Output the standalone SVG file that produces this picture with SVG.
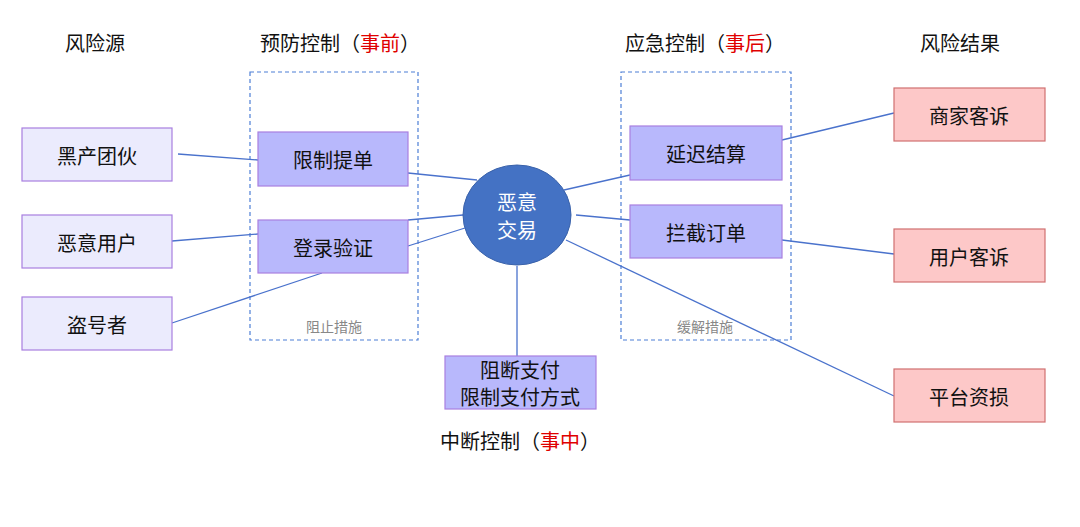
<svg xmlns="http://www.w3.org/2000/svg" width="1080" height="527" viewBox="0 0 1080 527">
<style>
text{font-family:"Noto Sans CJK SC","Noto Sans",sans-serif;font-size:20px;text-anchor:middle;dominant-baseline:central;fill:#111}
.src{fill:#ebebfd;stroke:#a87fe0;stroke-width:1.2}
.ctl{fill:#b8b8fc;stroke:#a87fe0;stroke-width:1.2}
.res{fill:#fdc8c8;stroke:#d07070;stroke-width:1.2}
.dash{fill:none;stroke:#4d7fd6;stroke-width:1.2;stroke-dasharray:4 3}
.red{fill:#e00000}
.note{font-size:14px;fill:#888}
#connectors line{stroke:#4a72cc;stroke-width:1.3}
</style>
<rect width="1080" height="527" fill="#fff"/>
<text x="95" y="42">风险源</text>
<text x="340" y="42">预防控制（<tspan class="red">事前</tspan>）</text>
<text x="705" y="42">应急控制（<tspan class="red">事后</tspan>）</text>
<text x="960" y="42">风险结果</text>
<text x="520" y="440">中断控制（<tspan class="red">事中</tspan>）</text>
<g id="prevent-group"><rect class="dash" x="250" y="72" width="168" height="268"/><text class="note" x="334" y="326">阻止措施</text></g>
<g id="mitigate-group"><rect class="dash" x="621" y="72" width="170" height="268"/><text class="note" x="705" y="326">缓解措施</text></g>
<g id="connectors">
<line x1="178" y1="154" x2="258" y2="160"/>
<line x1="172" y1="241" x2="258" y2="234"/>
<line x1="172" y1="323" x2="322" y2="273"/>
<line x1="408" y1="173" x2="477" y2="180"/>
<line x1="408" y1="220" x2="463" y2="215"/>
<line x1="408" y1="246" x2="465" y2="228"/>
<line x1="564" y1="190" x2="630" y2="175"/>
<line x1="576" y1="215" x2="630" y2="220"/>
<line x1="566" y1="240" x2="894" y2="396"/>
<line x1="517" y1="266" x2="517" y2="356"/>
<line x1="782" y1="140" x2="894" y2="113"/>
<line x1="782" y1="240" x2="894" y2="254"/>
</g>
<g id="n1"><rect class="src" x="22" y="128" width="150" height="53"/><text x="97" y="155">黑产团伙</text></g>
<g id="n2"><rect class="src" x="22" y="215" width="150" height="53"/><text x="97" y="242">恶意用户</text></g>
<g id="n3"><rect class="src" x="22" y="297" width="150" height="53"/><text x="97" y="324">盗号者</text></g>
<g id="n4"><rect class="ctl" x="258" y="132" width="150" height="54"/><text x="333" y="159">限制提单</text></g>
<g id="n5"><rect class="ctl" x="258" y="220" width="150" height="53"/><text x="333" y="247">登录验证</text></g>
<g id="center"><ellipse cx="517" cy="215" rx="54" ry="50" fill="#4472c4" stroke="#3a62aa"/><text x="517" y="201" fill="#fff" style="fill:#fff">恶意</text><text x="517" y="229" style="fill:#fff">交易</text></g>
<g id="n6"><rect class="ctl" x="630" y="126" width="152" height="54"/><text x="706" y="153">延迟结算</text></g>
<g id="n7"><rect class="ctl" x="630" y="205" width="152" height="53"/><text x="706" y="232">拦截订单</text></g>
<g id="n8"><rect class="ctl" x="445" y="356" width="151" height="53"/><text x="520" y="369">阻断支付</text><text x="520" y="396">限制支付方式</text></g>
<g id="r1"><rect class="res" x="894" y="88" width="151" height="53"/><text x="969" y="115">商家客诉</text></g>
<g id="r2"><rect class="res" x="894" y="229" width="151" height="53"/><text x="969" y="256">用户客诉</text></g>
<g id="r3"><rect class="res" x="894" y="369" width="151" height="53"/><text x="969" y="396">平台资损</text></g>
</svg>
